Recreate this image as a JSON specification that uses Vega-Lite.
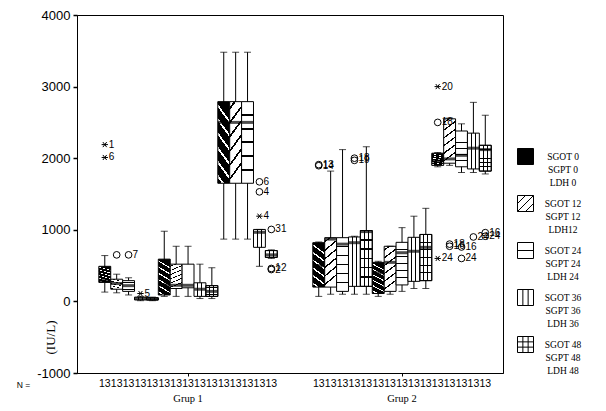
{
"$schema": "https://vega.github.io/schema/vega-lite/v6.json",
"width": 426, "height": 358,
"autosize": {"type": "none"},
"padding": {"left": 77, "top": 15, "right": 103, "bottom": 38},
"background": "white",
"config": {
  "view": {"stroke": "black", "strokeWidth": 1},
  "axis": {"labelColor": "black", "tickColor": "black", "domainColor": "black", "grid": false, "titleColor": "black"}
},
"datasets": {
  "box": [
    {"g":"Grup 1","v":"SGOT 0","p":0,"lo":130,"q1":265,"med":290,"q3":490,"hi":640,"n":13},
    {"g":"Grup 1","v":"SGOT 12","p":1,"lo":120,"q1":170,"med":250,"q3":310,"hi":380,"n":13},
    {"g":"Grup 1","v":"SGOT 24","p":2,"lo":90,"q1":140,"med":220,"q3":290,"hi":330,"n":13},
    {"g":"Grup 1","v":"SGOT 36","p":3,"lo":10,"q1":20,"med":40,"q3":60,"hi":70,"n":13},
    {"g":"Grup 1","v":"SGOT 48","p":4,"lo":10,"q1":20,"med":35,"q3":50,"hi":60,"n":13},
    {"g":"Grup 1","v":"SGPT 0","p":0,"lo":70,"q1":90,"med":230,"q3":590,"hi":980,"n":13},
    {"g":"Grup 1","v":"SGPT 12","p":1,"lo":70,"q1":180,"med":225,"q3":520,"hi":770,"n":13},
    {"g":"Grup 1","v":"SGPT 24","p":2,"lo":70,"q1":190,"med":225,"q3":520,"hi":770,"n":13},
    {"g":"Grup 1","v":"SGPT 36","p":3,"lo":40,"q1":70,"med":170,"q3":260,"hi":520,"n":13},
    {"g":"Grup 1","v":"SGPT 48","p":4,"lo":40,"q1":70,"med":140,"q3":220,"hi":470,"n":13},
    {"g":"Grup 1","v":"LDH 0","p":0,"lo":870,"q1":1650,"med":2500,"q3":2790,"hi":3480,"n":13},
    {"g":"Grup 1","v":"LDH 12","p":1,"lo":870,"q1":1650,"med":2500,"q3":2790,"hi":3480,"n":13},
    {"g":"Grup 1","v":"LDH 24","p":2,"lo":870,"q1":1650,"med":2500,"q3":2790,"hi":3480,"n":13},
    {"g":"Grup 1","v":"LDH 36","p":3,"lo":490,"q1":755,"med":965,"q3":1005,"hi":1005,"n":13},
    {"g":"Grup 1","v":"LDH 48","p":4,"lo":600,"q1":615,"med":650,"q3":710,"hi":720,"n":13},
    {"g":"Grup 2","v":"SGOT 0","p":0,"lo":70,"q1":200,"med":500,"q3":820,"hi":830,"n":13},
    {"g":"Grup 2","v":"SGOT 12","p":1,"lo":100,"q1":200,"med":870,"q3":890,"hi":1820,"n":13},
    {"g":"Grup 2","v":"SGOT 24","p":2,"lo":100,"q1":140,"med":800,"q3":890,"hi":2120,"n":13},
    {"g":"Grup 2","v":"SGOT 36","p":3,"lo":100,"q1":210,"med":820,"q3":900,"hi":910,"n":13},
    {"g":"Grup 2","v":"SGOT 48","p":4,"lo":100,"q1":210,"med":975,"q3":990,"hi":2160,"n":13},
    {"g":"Grup 2","v":"SGPT 0","p":0,"lo":70,"q1":110,"med":400,"q3":545,"hi":560,"n":13},
    {"g":"Grup 2","v":"SGPT 12","p":1,"lo":100,"q1":140,"med":545,"q3":770,"hi":770,"n":13},
    {"g":"Grup 2","v":"SGPT 24","p":2,"lo":140,"q1":230,"med":680,"q3":825,"hi":1030,"n":13},
    {"g":"Grup 2","v":"SGPT 36","p":3,"lo":180,"q1":280,"med":700,"q3":895,"hi":1190,"n":13},
    {"g":"Grup 2","v":"SGPT 48","p":4,"lo":180,"q1":290,"med":755,"q3":935,"hi":1300,"n":13},
    {"g":"Grup 2","v":"LDH 0","p":0,"lo":1880,"q1":1900,"med":1960,"q3":2070,"hi":2080,"n":13},
    {"g":"Grup 2","v":"LDH 12","p":1,"lo":1900,"q1":1930,"med":1990,"q3":2550,"hi":2560,"n":13},
    {"g":"Grup 2","v":"LDH 24","p":2,"lo":1800,"q1":1880,"med":2040,"q3":2380,"hi":2480,"n":13},
    {"g":"Grup 2","v":"LDH 36","p":3,"lo":1800,"q1":1850,"med":2140,"q3":2350,"hi":2780,"n":13},
    {"g":"Grup 2","v":"LDH 48","p":4,"lo":1780,"q1":1820,"med":2120,"q3":2180,"hi":2600,"n":13}
  ],
  "out": [
    {"g":"Grup 1","v":"SGOT 0","k":"*","val":2190,"lab":"1"},
    {"g":"Grup 1","v":"SGOT 0","k":"*","val":2010,"lab":"6"},
    {"g":"Grup 1","v":"SGOT 12","k":"o","val":650,"lab":""},
    {"g":"Grup 1","v":"SGOT 24","k":"o","val":650,"lab":"7"},
    {"g":"Grup 1","v":"SGOT 36","k":"*","val":110,"lab":"5"},
    {"g":"Grup 1","v":"LDH 36","k":"o","val":1670,"lab":"6"},
    {"g":"Grup 1","v":"LDH 36","k":"o","val":1530,"lab":"4"},
    {"g":"Grup 1","v":"LDH 36","k":"*","val":1190,"lab":"4"},
    {"g":"Grup 1","v":"LDH 48","k":"o","val":1005,"lab":"31"},
    {"g":"Grup 1","v":"LDH 48","k":"o","val":460,"lab":"12"},
    {"g":"Grup 1","v":"LDH 48","k":"o","val":445,"lab":"2"},
    {"g":"Grup 2","v":"SGOT 0","k":"o","val":1910,"lab":"13"},
    {"g":"Grup 2","v":"SGOT 0","k":"o","val":1895,"lab":"14"},
    {"g":"Grup 2","v":"SGOT 36","k":"o","val":2000,"lab":"18"},
    {"g":"Grup 2","v":"SGOT 36","k":"o","val":1970,"lab":"19"},
    {"g":"Grup 2","v":"LDH 0","k":"*","val":3000,"lab":"20"},
    {"g":"Grup 2","v":"LDH 0","k":"o","val":2500,"lab":"18"},
    {"g":"Grup 2","v":"LDH 0","k":"*","val":600,"lab":"24"},
    {"g":"Grup 2","v":"LDH 12","k":"o","val":800,"lab":"18"},
    {"g":"Grup 2","v":"LDH 12","k":"o","val":770,"lab":"16"},
    {"g":"Grup 2","v":"LDH 24","k":"o","val":760,"lab":"16"},
    {"g":"Grup 2","v":"LDH 24","k":"o","val":600,"lab":"24"},
    {"g":"Grup 2","v":"LDH 36","k":"o","val":900,"lab":"24"},
    {"g":"Grup 2","v":"LDH 48","k":"o","val":960,"lab":"16"},
    {"g":"Grup 2","v":"LDH 48","k":"o","val":910,"lab":"24"}
  ]
},
"encoding": {
  "x": {"field": "g", "type": "nominal",
    "scale": {"domain": ["Grup 1", "Grup 2"], "paddingInner": 0.166, "paddingOuter": 0.0785, "align": 0.65},
    "axis": {"title": "N =", "titleX": -54, "titleY": 11, "titleAlign": "center", "titleBaseline": "middle", "titleAngle": 0,
      "titleFont": "Liberation Sans", "titleFontSize": 8.5, "titleFontWeight": "normal",
      "labelAngle": 0, "labelFont": "Liberation Serif", "labelFontSize": 10.5, "labelPadding": 17, "tickSize": 3, "labelBaseline": "top"}},
  "xOffset": {"field": "v", "type": "nominal",
    "scale": {"domain": ["SGOT 0","SGOT 12","SGOT 24","SGOT 36","SGOT 48","SGPT 0","SGPT 12","SGPT 24","SGPT 36","SGPT 48","LDH 0","LDH 12","LDH 24","LDH 36","LDH 48"], "paddingInner": 0, "paddingOuter": 0}}
},
"layer": [
  {"data": {"name": "box"},
   "mark": {"type": "rule", "color": "black", "strokeWidth": 1},
   "encoding": {
     "y": {"field": "lo", "type": "quantitative",
       "scale": {"domain": [-1000, 4000], "nice": false, "zero": false},
       "axis": {"values": [-1000, 0, 1000, 2000, 3000, 4000], "labelExpr": "'' + datum.value",
         "labelFont": "Liberation Sans", "labelFontSize": 13, "labelPadding": 3, "tickSize": 4, "tickWidth": 1.5,
         "title": "(IU/L)", "titleFont": "Liberation Serif", "titleFontSize": 13, "titleFontWeight": "normal",
         "titleX": -27, "titleY": 322, "titleAngle": -90, "titleAlign": "center", "titleBaseline": "middle"}},
     "y2": {"field": "hi"}}},
  {"data": {"name": "box"},
   "transform": [{"filter": "datum.p == 0"}],
   "mark": {"type": "bar", "stroke": "black", "strokeWidth": 1,
     "fill": {"gradient": "linear", "x1": 0.2, "y1": 0, "x2": 0, "y2": 1, "stops": [{"offset":0,"color":"#000"},{"offset":0.067,"color":"#000"},{"offset":0.067,"color":"#fff"},{"offset":0.103,"color":"#fff"},{"offset":0.103,"color":"#000"},{"offset":0.232,"color":"#000"},{"offset":0.232,"color":"#fff"},{"offset":0.268,"color":"#fff"},{"offset":0.268,"color":"#000"},{"offset":0.397,"color":"#000"},{"offset":0.397,"color":"#fff"},{"offset":0.433,"color":"#fff"},{"offset":0.433,"color":"#000"},{"offset":0.567,"color":"#000"},{"offset":0.567,"color":"#fff"},{"offset":0.603,"color":"#fff"},{"offset":0.603,"color":"#000"},{"offset":0.732,"color":"#000"},{"offset":0.732,"color":"#fff"},{"offset":0.768,"color":"#fff"},{"offset":0.768,"color":"#000"},{"offset":0.897,"color":"#000"},{"offset":0.897,"color":"#fff"},{"offset":0.933,"color":"#fff"},{"offset":0.933,"color":"#000"},{"offset":1,"color":"#000"}]}},
   "encoding": {"y": {"field": "q1", "type": "quantitative"}, "y2": {"field": "q3"}}},
  {"data": {"name": "box"},
   "transform": [{"filter": "datum.p == 1"}],
   "mark": {"type": "bar", "stroke": "black", "strokeWidth": 1,
     "fill": {"gradient": "linear", "x1": 0, "y1": 0, "x2": 0.2, "y2": 1, "stops": [{"offset":0,"color":"#fff"},{"offset":0.067,"color":"#fff"},{"offset":0.067,"color":"#000"},{"offset":0.1,"color":"#000"},{"offset":0.1,"color":"#fff"},{"offset":0.232,"color":"#fff"},{"offset":0.232,"color":"#000"},{"offset":0.265,"color":"#000"},{"offset":0.265,"color":"#fff"},{"offset":0.397,"color":"#fff"},{"offset":0.397,"color":"#000"},{"offset":0.43,"color":"#000"},{"offset":0.43,"color":"#fff"},{"offset":0.567,"color":"#fff"},{"offset":0.567,"color":"#000"},{"offset":0.6,"color":"#000"},{"offset":0.6,"color":"#fff"},{"offset":0.732,"color":"#fff"},{"offset":0.732,"color":"#000"},{"offset":0.765,"color":"#000"},{"offset":0.765,"color":"#fff"},{"offset":0.897,"color":"#fff"},{"offset":0.897,"color":"#000"},{"offset":0.93,"color":"#000"},{"offset":0.93,"color":"#fff"},{"offset":1,"color":"#fff"}]}},
   "encoding": {"y": {"field": "q1", "type": "quantitative"}, "y2": {"field": "q3"}}},
  {"data": {"name": "box"},
   "transform": [{"filter": "datum.p == 2"}],
   "mark": {"type": "bar", "stroke": "black", "strokeWidth": 1,
     "fill": {"gradient": "linear", "x1": 0, "y1": 0, "x2": 0, "y2": 1, "stops": [{"offset":0,"color":"#fff"},{"offset":0.155,"color":"#fff"},{"offset":0.155,"color":"#000"},{"offset":0.179,"color":"#000"},{"offset":0.179,"color":"#fff"},{"offset":0.321,"color":"#fff"},{"offset":0.321,"color":"#000"},{"offset":0.345,"color":"#000"},{"offset":0.345,"color":"#fff"},{"offset":0.488,"color":"#fff"},{"offset":0.488,"color":"#000"},{"offset":0.512,"color":"#000"},{"offset":0.512,"color":"#fff"},{"offset":0.655,"color":"#fff"},{"offset":0.655,"color":"#000"},{"offset":0.679,"color":"#000"},{"offset":0.679,"color":"#fff"},{"offset":0.821,"color":"#fff"},{"offset":0.821,"color":"#000"},{"offset":0.845,"color":"#000"},{"offset":0.845,"color":"#fff"},{"offset":1,"color":"#fff"}]}},
   "encoding": {"y": {"field": "q1", "type": "quantitative"}, "y2": {"field": "q3"}}},
  {"data": {"name": "box"},
   "transform": [{"filter": "datum.p == 3 || datum.p == 4"}],
   "mark": {"type": "bar", "stroke": "black", "strokeWidth": 1,
     "fill": {"gradient": "linear", "x1": 0, "y1": 0, "x2": 1, "y2": 0, "stops": [{"offset":0,"color":"#fff"},{"offset":0.293,"color":"#fff"},{"offset":0.293,"color":"#000"},{"offset":0.373,"color":"#000"},{"offset":0.373,"color":"#fff"},{"offset":0.627,"color":"#fff"},{"offset":0.627,"color":"#000"},{"offset":0.707,"color":"#000"},{"offset":0.707,"color":"#fff"},{"offset":1,"color":"#fff"}]}},
   "encoding": {"y": {"field": "q1", "type": "quantitative"}, "y2": {"field": "q3"}}},
  {"data": {"name": "box"},
   "transform": [{"filter": "datum.p == 4"}],
   "mark": {"type": "bar", "stroke": "black", "strokeWidth": 1,
     "fill": {"gradient": "linear", "x1": 0, "y1": 0, "x2": 0, "y2": 1, "stops": [{"offset":0,"color":"rgba(0,0,0,0)"},{"offset":0.155,"color":"rgba(0,0,0,0)"},{"offset":0.155,"color":"#000"},{"offset":0.179,"color":"#000"},{"offset":0.179,"color":"rgba(0,0,0,0)"},{"offset":0.321,"color":"rgba(0,0,0,0)"},{"offset":0.321,"color":"#000"},{"offset":0.345,"color":"#000"},{"offset":0.345,"color":"rgba(0,0,0,0)"},{"offset":0.488,"color":"rgba(0,0,0,0)"},{"offset":0.488,"color":"#000"},{"offset":0.512,"color":"#000"},{"offset":0.512,"color":"rgba(0,0,0,0)"},{"offset":0.655,"color":"rgba(0,0,0,0)"},{"offset":0.655,"color":"#000"},{"offset":0.679,"color":"#000"},{"offset":0.679,"color":"rgba(0,0,0,0)"},{"offset":0.821,"color":"rgba(0,0,0,0)"},{"offset":0.821,"color":"#000"},{"offset":0.845,"color":"#000"},{"offset":0.845,"color":"rgba(0,0,0,0)"},{"offset":1,"color":"rgba(0,0,0,0)"}]}},
   "encoding": {"y": {"field": "q1", "type": "quantitative"}, "y2": {"field": "q3"}}},
  {"data": {"name": "box"},
   "mark": {"type": "tick", "color": "black", "thickness": 3, "size": 11.5},
   "encoding": {"y": {"field": "med", "type": "quantitative"}}},
  {"data": {"name": "box"},
   "mark": {"type": "tick", "color": "black", "thickness": 1, "size": 7},
   "encoding": {"y": {"field": "lo", "type": "quantitative"}}},
  {"data": {"name": "box"},
   "mark": {"type": "tick", "color": "black", "thickness": 1, "size": 7},
   "encoding": {"y": {"field": "hi", "type": "quantitative"}}},
  {"data": {"name": "out"},
   "transform": [{"filter": "datum.k == 'o'"}],
   "mark": {"type": "point", "shape": "circle", "filled": false, "stroke": "black", "strokeWidth": 1, "size": 45, "opacity": 1},
   "encoding": {"y": {"field": "val", "type": "quantitative"}}},
  {"data": {"name": "out"},
   "transform": [{"filter": "datum.k == '*'"}],
   "mark": {"type": "point", "shape": "M-1,0L1,0M-0.6,-0.8L0.6,0.8M0.6,-0.8L-0.6,0.8", "filled": false, "stroke": "black", "strokeWidth": 1, "size": 40, "opacity": 1},
   "encoding": {"y": {"field": "val", "type": "quantitative"}}},
  {"data": {"name": "out"},
   "mark": {"type": "text", "align": "left", "baseline": "middle", "dx": 4, "font": "Liberation Sans", "fontSize": 10, "color": "black"},
   "encoding": {"y": {"field": "val", "type": "quantitative"}, "text": {"field": "lab"}}},
  {"data": {"name": "box"},
   "mark": {"type": "text", "align": "center", "baseline": "middle", "dy": 11, "font": "Liberation Sans", "fontSize": 10.5, "color": "black"},
   "encoding": {"y": {"datum": -1000}, "text": {"field": "n"}}},
  {"data": {"name": "box"},
   "mark": {"type": "point", "filled": true, "opacity": 0},
   "encoding": {
     "y": {"field": "med", "type": "quantitative"},
     "shape": {"field": "p", "type": "nominal",
       "scale": {"domain": [0, 1, 2, 3, 4], "range": [
         "M-1,-1H1V1H-1Z",
         "M-1,-1H1V1H-1ZM-1,0L0,-1M-1,1L1,-1M0,1L1,0",
         "M-1,-1H1V1H-1ZM-1,0H1",
         "M-1,-1H1V1H-1ZM-0.33,-1V1M0.33,-1V1",
         "M-1,-1H1V1H-1ZM-0.33,-1V1M0.33,-1V1M-1,-0.33H1M-1,0.33H1"
       ]},
       "legend": {
         "orient": "none", "legendX": 440, "legendY": 133, "title": null, "padding": 0,
         "symbolSize": 256, "symbolStrokeColor": "black", "symbolStrokeWidth": 1, "symbolOpacity": 1,
         "labelFont": "Liberation Serif", "labelFontSize": 9.5, "labelColor": "black", "labelLimit": 0,
         "labelAlign": "center", "labelOffset": 29, "labelBaseline": "middle",
         "rowPadding": 6,
         "labelExpr": "datum.label == '0' ? ['SGOT 0','SGPT 0','LDH 0'] : datum.label == '1' ? ['SGOT 12','SGPT 12','LDH12'] : datum.label == '2' ? ['SGOT 24','SGPT 24','LDH 24'] : datum.label == '3' ? ['SGOT 36','SGPT 36','LDH 36'] : ['SGOT 48','SGPT 48','LDH 48']",
         "encode": {
           "labels": {"update": {"lineHeight": {"value": 13}}},
           "symbols": {"update": {"opacity": {"value": 1}, "fillOpacity": {"value": 1}, "stroke": {"value": "black"}, "strokeWidth": {"value": 1}}}
         }}},
     "fill": {"field": "p", "type": "nominal",
       "scale": {"domain": [0, 1, 2, 3, 4], "range": ["black", "white", "white", "white", "white"]},
       "legend": {
         "orient": "none", "legendX": 440, "legendY": 133, "title": null, "padding": 0,
         "symbolSize": 256, "symbolStrokeColor": "black", "symbolStrokeWidth": 1, "symbolOpacity": 1,
         "labelFont": "Liberation Serif", "labelFontSize": 9.5, "labelColor": "black", "labelLimit": 0,
         "labelAlign": "center", "labelOffset": 29, "labelBaseline": "middle",
         "rowPadding": 6,
         "labelExpr": "datum.label == '0' ? ['SGOT 0','SGPT 0','LDH 0'] : datum.label == '1' ? ['SGOT 12','SGPT 12','LDH12'] : datum.label == '2' ? ['SGOT 24','SGPT 24','LDH 24'] : datum.label == '3' ? ['SGOT 36','SGPT 36','LDH 36'] : ['SGOT 48','SGPT 48','LDH 48']",
         "encode": {
           "labels": {"update": {"lineHeight": {"value": 13}}},
           "symbols": {"update": {"opacity": {"value": 1}, "fillOpacity": {"value": 1}, "stroke": {"value": "black"}, "strokeWidth": {"value": 1}}}
         }}}}}
]
}
